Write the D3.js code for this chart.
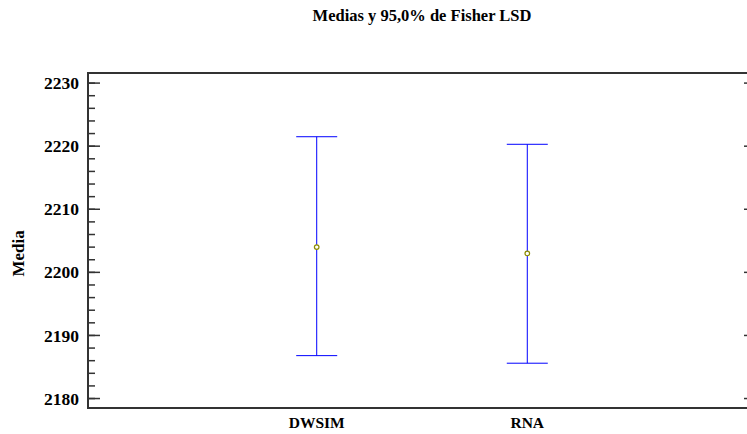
<!DOCTYPE html>
<html>
<head>
<meta charset="utf-8">
<script src="https://cdn.jsdelivr.net/npm/d3@7"></script>
<style>
  body { margin: 0; background: #fff; }
  svg { display: block; }
</style>
</head>
<body>
<svg width="747" height="434"></svg>
<script>
// Data
const categories = ['DWSIM', 'RNA'];
const means = [2204.0, 2203.0];
const lower = [2186.8, 2185.6];
const upper = [2221.5, 2220.3];
const yTicks = [2180, 2190, 2200, 2210, 2220, 2230];
const yMinorTicks = d3.range(2180, 2231, 2);

const serif = "'Liberation Serif', 'Times New Roman', Times, 'DejaVu Serif', serif";

const svg = d3.select('svg')
    .style('font-family', serif)
    .style('font-weight', 'bold');
const margin = {left: 88, right: -9, top: 73, bottom: 26};
const width = 747 - margin.left - margin.right;
const height = 434 - margin.top - margin.bottom;

const x = d3.scalePoint().domain(categories).range([0, width]).padding(1.086);
const y = d3.scaleLinear().domain([2178.5, 2231.6]).range([height, 0]);

const g = svg.append('g').attr('transform', `translate(${margin.left},${margin.top})`);

// Title
svg.append('text')
    .attr('x', margin.left + width / 2).attr('y', 21)
    .attr('text-anchor', 'middle')
    .attr('font-family', serif).attr('font-weight', 'bold')
    .style('font-size', '16.5px')
    .text('Medias y 95,0% de Fisher LSD');

// Frame
const axisColour = '#333';
g.append('rect')
    .attr('width', width).attr('height', height)
    .attr('fill', 'none').attr('stroke', axisColour).attr('stroke-width', 2);

// Left and right axes: minor and major ticks pointing inward
g.selectAll('.minor-left').data(yMinorTicks).join('line')
    .attr('x1', 0).attr('x2', 7)
    .attr('y1', d => y(d)).attr('y2', d => y(d))
    .attr('stroke', axisColour).attr('stroke-width', 1.5);
g.selectAll('.major-left').data(yTicks).join('line')
    .attr('x1', 0).attr('x2', 12)
    .attr('y1', d => y(d)).attr('y2', d => y(d))
    .attr('stroke', axisColour).attr('stroke-width', 1.5);
g.selectAll('.minor-right').data(yMinorTicks).join('line')
    .attr('x1', width).attr('x2', width - 7)
    .attr('y1', d => y(d)).attr('y2', d => y(d))
    .attr('stroke', axisColour).attr('stroke-width', 1.5);
g.selectAll('.major-right').data(yTicks).join('line')
    .attr('x1', width).attr('x2', width - 12)
    .attr('y1', d => y(d)).attr('y2', d => y(d))
    .attr('stroke', axisColour).attr('stroke-width', 1.5);

g.selectAll('.ytick-label').data(yTicks).join('text')
    .attr('x', -9).attr('y', d => y(d))
    .attr('dy', '0.35em')
    .attr('text-anchor', 'end')
    .attr('font-family', serif).attr('font-weight', 'bold')
    .style('font-size', '17.5px')
    .text(d => d);

// Category labels
g.selectAll('.xtick-label').data(categories).join('text')
    .attr('x', d => x(d)).attr('y', height + 20)
    .attr('text-anchor', 'middle')
    .attr('font-family', serif).attr('font-weight', 'bold')
    .style('font-size', '15.5px')
    .text(d => d);

// Y axis title
svg.append('text')
    .attr('transform', `translate(24,${margin.top + y(2203)}) rotate(-90)`)
    .attr('text-anchor', 'middle')
    .attr('font-family', serif).attr('font-weight', 'bold')
    .style('font-size', '17px')
    .text('Media');

// Error bars
const capHalf = 20.5;
const bars = g.selectAll('.bar').data(categories).join('g');
bars.append('line')
    .attr('x1', d => x(d)).attr('x2', d => x(d))
    .attr('y1', (d, i) => y(lower[i])).attr('y2', (d, i) => y(upper[i]))
    .attr('stroke', '#0000ff').attr('stroke-width', 1);
bars.append('line')
    .attr('x1', d => x(d) - capHalf).attr('x2', d => x(d) + capHalf)
    .attr('y1', (d, i) => y(upper[i])).attr('y2', (d, i) => y(upper[i]))
    .attr('stroke', '#0000ff').attr('stroke-width', 1);
bars.append('line')
    .attr('x1', d => x(d) - capHalf).attr('x2', d => x(d) + capHalf)
    .attr('y1', (d, i) => y(lower[i])).attr('y2', (d, i) => y(lower[i]))
    .attr('stroke', '#0000ff').attr('stroke-width', 1);
bars.append('circle')
    .attr('cx', d => x(d)).attr('cy', (d, i) => y(means[i]))
    .attr('r', 2.3)
    .attr('fill', '#fff').attr('stroke', '#8c8c00').attr('stroke-width', 1.2);
</script>
</body>
</html>
